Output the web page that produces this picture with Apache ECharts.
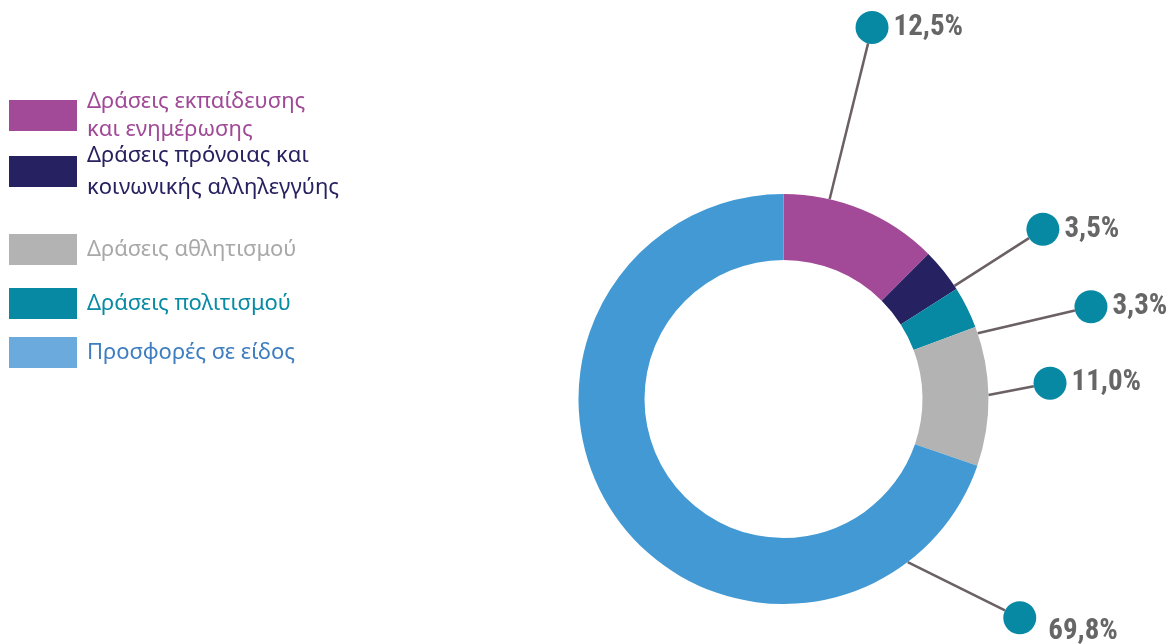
<!DOCTYPE html>
<html>
<head>
<meta charset="utf-8">
<script src="https://cdn.jsdelivr.net/npm/echarts@6/dist/echarts.min.js"></script>
<style>
  html, body { margin: 0; padding: 0; background: #fff; }
  #main { width: 1172px; height: 644px; }
</style>
</head>
<body>
<div id="main"></div>
<script>
// categories in ring order (clockwise from 12 o'clock)
const categories = [
  'Δράσεις εκπαίδευσης\nκαι ενημέρωσης',
  'Δράσεις πρόνοιας και\nκοινωνικής αλληλεγγύης',
  'Δράσεις πολιτισμού',
  'Δράσεις αθλητισμού',
  'Προσφορές σε είδος'
];
const shares = [12.5, 3.5, 3.3, 11.0, 69.8];
// legend order as in the picture
const legendOrder = [0, 1, 3, 2, 4];

const sliceColors = ['#a24a97', '#262262', '#0789a4', '#b3b3b3', '#4299d3'];
const legendIconColors = ['#a24a97', '#262262', '#0789a4', '#b3b3b3', '#6aaadd'];
const legendTextColors = ['#a04a97', '#27215f', '#078ba4', '#a8a8a8', '#3d7dc0'];
// per legend row (picture order): top, line height, extra top padding of the text
const legendTops = [84, 132, 234, 288, 337];
const legendLineH = [28, 32, 28, 28, 28];
const legendPadTop = [7, 15, 0, 0, 0];

// ring geometry
const cx = 783.5, cy = 399, rIn = 139, rOut = 205;
// where each pin line leaves the ring (deg clockwise from top), and where the pin sits
const pinFrom = [13, 56.5, 71.3, 88.9, 142.7];
const pinAngle = [13.4, 56.8, 73.3, 86.6, 132.8];
const pinDist = [382, 310, 321, 267, 322];
const dotR = 16.5;

function polar(a, d) {
  const r = a * Math.PI / 180;
  return [cx + d * Math.sin(r), cy - d * Math.cos(r)];
}

const chart = echarts.init(document.getElementById('main'), null, { renderer: 'canvas' });

const valueFont = "'Liberation Sans Narrow', 'Roboto Condensed', Roboto, sans-serif";

const legends = legendOrder.map((idx, k) => ({
  show: true,
  orient: 'vertical',
  left: 9,
  top: legendTops[k],
  padding: 0,
  icon: 'rect',
  itemWidth: 68,
  itemHeight: 31,
  selectedMode: false,
  data: [{
    name: categories[idx],
    itemStyle: { color: legendIconColors[idx] },
    textStyle: { color: legendTextColors[idx] }
  }],
  textStyle: {
    fontFamily: 'Noto Sans',
    fontSize: 22,
    lineHeight: legendLineH[k],
    padding: [legendPadTop[k], 0, 0, 5]
  }
}));

const option = {
  animation: false,
  legend: legends,
  series: [{
    type: 'pie',
    center: [cx, cy],
    radius: [rIn, rOut],
    startAngle: 90,
    clockwise: true,
    avoidLabelOverlap: false,
    silent: true,
    emphasis: { disabled: true },
    data: categories.map((name, i) => ({
      name: name,
      value: shares[i],
      itemStyle: { color: sliceColors[i] }
    })),
    label: {
      show: true,
      position: 'outside',
      formatter: p => {
        const txt = p.value.toFixed(1).replace('.', ',') + '%';
        return p.dataIndex === 4 ? '{dot|}{low|' + txt + '}' : '{dot|}{val|' + txt + '}';
      },
      rich: {
        dot: {
          width: dotR * 2,
          height: dotR * 2,
          borderRadius: dotR,
          backgroundColor: '#0789a4'
        },
        val: {
          fontFamily: valueFont,
          fontWeight: 'bold',
          fontSize: 29,
          color: '#666666',
          padding: [0, 0, 0, 5]
        },
        low: {
          fontFamily: valueFont,
          fontWeight: 'bold',
          fontSize: 29,
          color: '#666666',
          padding: [28, 0, 0, 12]
        }
      }
    },
    labelLine: {
      show: true,
      length: 20,
      length2: 0,
      lineStyle: { color: '#6b6064', width: 2.5 }
    },
    labelLayout: params => {
      const i = params.dataIndex;
      const s = polar(pinFrom[i], rOut);
      const t = polar(pinAngle[i], pinDist[i]);
      const len = Math.hypot(t[0] - s[0], t[1] - s[1]);
      const e = [t[0] - dotR * (t[0] - s[0]) / len, t[1] - dotR * (t[1] - s[1]) / len];
      return {
        x: t[0] - dotR,
        y: t[1],
        align: 'left',
        verticalAlign: 'middle',
        labelLinePoints: [s, e, e]
      };
    }
  }]
};

chart.setOption(option);
</script>
</body>
</html>
